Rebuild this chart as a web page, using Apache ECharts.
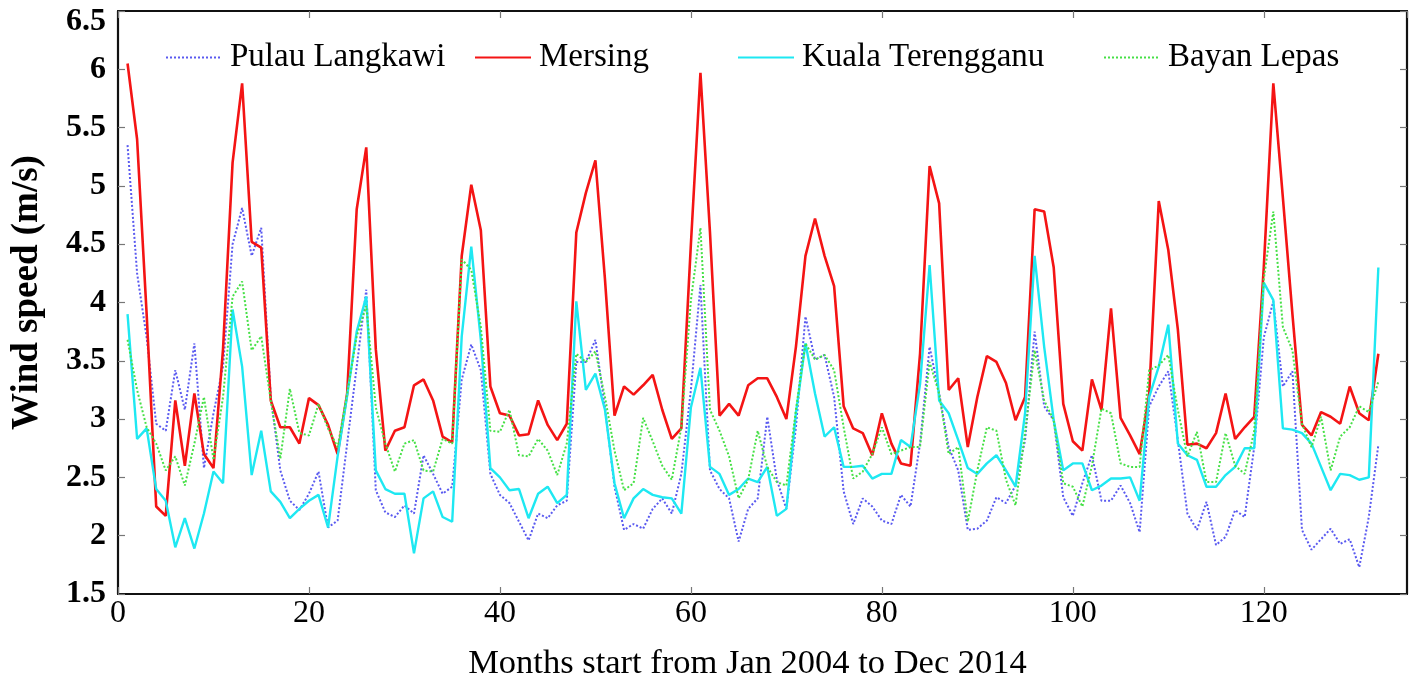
<!DOCTYPE html>
<html>
<head>
<meta charset="utf-8">
<script src="https://cdn.jsdelivr.net/npm/echarts@6/dist/echarts.min.js"></script>
<style>
  html, body { margin: 0; padding: 0; background: #ffffff; }
  #chart { width: 1418px; height: 681px; }
</style>
</head>
<body>
<div id="chart"></div>
<script>
// Monthly mean wind speed (m/s), Jan 2004 .. Dec 2014 (month 1 .. 132)
const stationNames = ['Pulau Langkawi', 'Mersing', 'Kuala Terengganu', 'Bayan Lepas'];

const pulauLangkawi = [
  5.35, 4.25, 3.70, 2.96, 2.90, 3.42, 3.08, 3.65, 2.58, 3.05, 3.45, 4.50,
  4.81, 4.40, 4.64, 3.19, 2.56, 2.30, 2.22, 2.36, 2.55, 2.07, 2.13, 2.79,
  3.45, 4.11, 2.39, 2.20, 2.16, 2.26, 2.19, 2.69, 2.53, 2.36, 2.42, 3.34,
  3.64, 3.42, 2.53, 2.35, 2.28, 2.12, 1.96, 2.19, 2.15, 2.26, 2.30, 3.49,
  3.49, 3.68, 3.10, 2.42, 2.05, 2.10, 2.06, 2.23, 2.32, 2.19, 2.53, 3.25,
  4.15, 2.56, 2.40, 2.32, 1.95, 2.23, 2.32, 3.02, 2.48, 2.23, 2.93, 3.88,
  3.51, 3.55, 3.19, 2.38, 2.10, 2.32, 2.25, 2.13, 2.10, 2.35, 2.25, 2.79,
  3.62, 3.22, 2.76, 2.56, 2.05, 2.06, 2.13, 2.33, 2.28, 2.43, 2.82, 3.75,
  3.11, 2.99, 2.33, 2.17, 2.45, 2.69, 2.30, 2.30, 2.43, 2.28, 2.03, 3.11,
  3.28, 3.41, 2.82, 2.19, 2.05, 2.29, 1.92, 1.99, 2.22, 2.16, 2.76, 3.70,
  4.01, 3.28, 3.41, 2.05, 1.88, 1.97, 2.06, 1.93, 1.97, 1.73, 2.16, 2.78
];

const mersing = [
  6.05, 5.40, 3.90, 2.25, 2.17, 3.16, 2.60, 3.22, 2.70, 2.58, 3.60, 5.20,
  5.88, 4.52, 4.47, 3.16, 2.93, 2.93, 2.79, 3.18, 3.12, 2.95, 2.70, 3.22,
  4.80, 5.33, 3.60, 2.73, 2.90, 2.93, 3.29, 3.34, 3.16, 2.85, 2.80, 4.40,
  5.01, 4.62, 3.28, 3.05, 3.03, 2.86, 2.87, 3.16, 2.95, 2.82, 2.96, 4.60,
  4.94, 5.22, 4.20, 3.03, 3.28, 3.21, 3.29, 3.38, 3.08, 2.83, 2.92, 4.50,
  5.97, 4.60, 3.03, 3.13, 3.03, 3.29, 3.35, 3.35, 3.19, 3.00, 3.62, 4.40,
  4.72, 4.40, 4.14, 3.11, 2.92, 2.88, 2.69, 3.05, 2.79, 2.62, 2.60, 3.56,
  5.17, 4.85, 3.25, 3.35, 2.76, 3.19, 3.54, 3.49, 3.31, 2.99, 3.19, 4.80,
  4.78, 4.30, 3.13, 2.81, 2.73, 3.34, 3.08, 3.95, 3.01, 2.86, 2.70, 3.22,
  4.87, 4.45, 3.77, 2.78, 2.79, 2.75, 2.88, 3.22, 2.83, 2.93, 3.02, 4.30,
  5.88, 4.90, 3.90, 2.95, 2.86, 3.06, 3.02, 2.96, 3.28, 3.05, 2.99, 3.56
];

const kualaTerengganu = [
  3.90, 2.83, 2.92, 2.40, 2.30, 1.90, 2.15, 1.89, 2.19, 2.55, 2.45, 3.94,
  3.45, 2.52, 2.90, 2.38, 2.29, 2.15, 2.23, 2.30, 2.35, 2.07, 2.68, 3.20,
  3.75, 4.05, 2.56, 2.40, 2.36, 2.36, 1.85, 2.32, 2.38, 2.16, 2.12, 3.71,
  4.48, 3.68, 2.58, 2.50, 2.39, 2.40, 2.15, 2.36, 2.42, 2.28, 2.35, 4.01,
  3.25, 3.39, 3.08, 2.45, 2.15, 2.32, 2.40, 2.35, 2.33, 2.32, 2.19, 3.10,
  3.44, 2.59, 2.53, 2.35, 2.40, 2.49, 2.46, 2.59, 2.17, 2.23, 3.05, 3.65,
  3.22, 2.85, 2.93, 2.59, 2.59, 2.60, 2.49, 2.53, 2.53, 2.82, 2.76, 3.30,
  4.32, 3.16, 3.05, 2.82, 2.58, 2.53, 2.62, 2.69, 2.56, 2.42, 3.05, 4.40,
  3.62, 2.99, 2.56, 2.62, 2.62, 2.39, 2.43, 2.49, 2.49, 2.50, 2.30, 3.19,
  3.45, 3.81, 2.79, 2.69, 2.65, 2.42, 2.42, 2.52, 2.59, 2.75, 2.75, 4.17,
  4.02, 2.92, 2.91, 2.88, 2.79, 2.59, 2.39, 2.53, 2.52, 2.48, 2.50, 4.30
];

const bayanLepas = [
  3.68, 3.25, 2.93, 2.79, 2.56, 2.68, 2.43, 2.79, 3.19, 2.65, 3.19, 4.05,
  4.18, 3.59, 3.71, 3.16, 2.66, 3.26, 2.88, 2.86, 3.13, 2.92, 2.76, 3.22,
  3.71, 3.97, 3.10, 2.79, 2.55, 2.79, 2.82, 2.56, 2.55, 2.83, 2.79, 4.37,
  4.28, 3.79, 2.90, 2.89, 3.08, 2.69, 2.68, 2.83, 2.73, 2.52, 2.79, 3.56,
  3.49, 3.58, 3.19, 2.73, 2.39, 2.45, 3.01, 2.81, 2.60, 2.48, 2.93, 4.02,
  4.64, 3.08, 2.90, 2.68, 2.32, 2.48, 2.90, 2.59, 2.46, 2.43, 3.08, 3.65,
  3.51, 3.55, 3.42, 2.93, 2.49, 2.55, 2.70, 2.93, 2.70, 2.73, 2.76, 2.76,
  3.49, 3.22, 2.70, 2.76, 2.12, 2.56, 2.93, 2.90, 2.48, 2.26, 2.88, 3.59,
  3.16, 2.99, 2.45, 2.42, 2.25, 2.60, 3.09, 3.05, 2.62, 2.59, 2.59, 3.42,
  3.46, 3.55, 3.08, 2.68, 2.89, 2.46, 2.46, 2.88, 2.60, 2.53, 2.90, 4.20,
  4.78, 3.79, 3.59, 2.96, 2.76, 3.02, 2.56, 2.85, 2.93, 3.11, 3.06, 3.32
];

const stationValues = [pulauLangkawi, mersing, kualaTerengganu, bayanLepas];

// Axis ranges and tick steps
const xRange = [0, 135];
const xStep = 20;
const yRange = [1.5, 6.5];
const yStep = 0.5;

const serif = 'Liberation Serif';
const lineStyles = [
  { color: '#5a5af0', width: 2, type: [2, 2] },
  { color: '#f41414', width: 2.6, type: 'solid' },
  { color: '#1ee8f2', width: 2.4, type: 'solid' },
  { color: '#46e046', width: 2, type: [2, 2] }
];
const legendLeft = [160, 469, 732, 1098];

const chart = echarts.init(document.getElementById('chart'), null, { renderer: 'canvas' });

const tickStyle = { show: true, inside: true, length: 7, lineStyle: { color: '#777', width: 1.2 } };
const frameLine = { show: true, onZero: false, lineStyle: { color: '#111', width: 2.2 } };

chart.setOption({
  backgroundColor: '#ffffff',
  animation: false,
  grid: { left: 118, right: 11, top: 11, bottom: 87, containLabel: false, outerBoundsMode: 'none' },
  legend: stationNames.map((name, i) => ({
    data: [name],
    left: legendLeft[i],
    top: 36,
    itemWidth: 56,
    itemHeight: 16,
    // plain line samples, no marker in the middle
    itemStyle: { color: 'transparent', borderWidth: 0, opacity: 0 },
    textStyle: { fontFamily: serif, fontSize: 33, color: '#000', padding: [0, 0, 0, 3] }
  })),
  xAxis: [
    {
      type: 'value', min: xRange[0], max: xRange[1], interval: xStep, position: 'bottom',
      axisLine: frameLine, axisTick: tickStyle, splitLine: { show: false },
      axisLabel: {
        fontFamily: serif, fontSize: 32, color: '#000', margin: 4, showMaxLabel: false,
        formatter: v => (v % xStep === 0 ? String(v) : '')
      },
      name: 'Months start from Jan 2004 to Dec 2014',
      nameLocation: 'middle', nameGap: 52,
      nameTextStyle: { fontFamily: serif, fontSize: 34.5, color: '#000', padding: [0, 30, 0, 0] }
    },
    {
      type: 'value', min: xRange[0], max: xRange[1], interval: xStep, position: 'top',
      axisLine: frameLine, axisTick: tickStyle, axisLabel: { show: false }, splitLine: { show: false }
    }
  ],
  yAxis: [
    {
      type: 'value', min: yRange[0], max: yRange[1], interval: yStep, position: 'left',
      axisLine: frameLine, axisTick: tickStyle, splitLine: { show: false },
      axisLabel: {
        fontFamily: serif, fontSize: 32, fontWeight: 'bold', color: '#000', margin: 12,
        verticalAlignMaxLabel: 'top', lineHeight: 22
      },
      name: 'Wind speed (m/s)', nameLocation: 'middle', nameGap: 72,
      nameTextStyle: { fontFamily: serif, fontSize: 37, fontWeight: 'bold', color: '#000', padding: [0, 0, 0, 20] }
    },
    {
      type: 'value', min: yRange[0], max: yRange[1], interval: yStep, position: 'right',
      axisLine: frameLine, axisTick: tickStyle, axisLabel: { show: false }, splitLine: { show: false }
    }
  ],
  series: stationNames.map((name, i) => ({
    name: name,
    type: 'line',
    xAxisIndex: 0,
    yAxisIndex: 0,
    data: stationValues[i].map((v, k) => [k + 1, v]),
    symbol: 'none',
    smooth: false,
    z: 2 + i,
    itemStyle: { color: lineStyles[i].color },
    lineStyle: lineStyles[i]
  }))
});
</script>
</body>
</html>
